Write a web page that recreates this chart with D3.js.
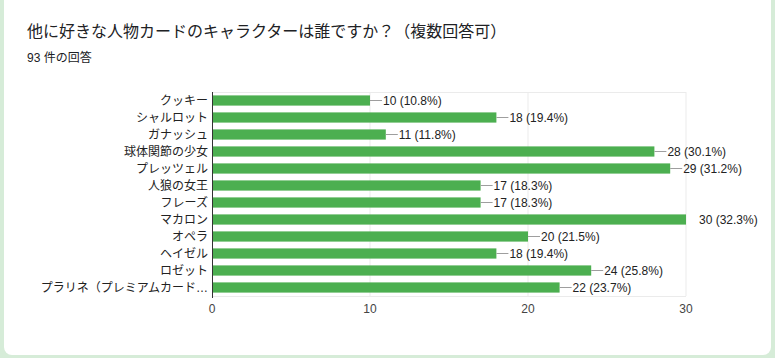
<!DOCTYPE html>
<html><head><meta charset="utf-8">
<script src="https://cdn.jsdelivr.net/npm/d3@7"></script>
<style>
html,body{margin:0;padding:0;background:#d6ecd8;}
svg{display:block;}
text{font-family:"Liberation Sans",Arial,"Noto Sans CJK JP",sans-serif;}
</style></head>
<body>
<script>
const title = "他に好きな人物カードのキャラクターは誰ですか？（複数回答可）";
const subtitle = "93 件の回答";
const total = 93;
const categories = ["クッキー","シャルロット","ガナッシュ","球体関節の少女","プレッツェル","人狼の女王","フレーズ","マカロン","オペラ","ヘイゼル","ロゼット","プラリネ（プレミアムカード…"];
const values = [10,18,11,28,29,17,17,30,20,18,24,22];
const tickValues = [0,10,20,30];

const W = 775, H = 358;
const svg = d3.select("body").append("svg").attr("width", W).attr("height", H);

svg.append("rect").attr("x",0).attr("y",0).attr("width",W).attr("height",H).attr("fill","#d6ecd8");
svg.append("rect").attr("x",4).attr("y",-12).attr("width",767).attr("height",367).attr("rx",8).attr("fill","#ffffff");

svg.append("text").attr("x",27).attr("y",37).attr("font-size",16).attr("fill","#202124").text(title);
svg.append("text").attr("x",27).attr("y",62).attr("font-size",12).attr("fill","#202124").text(subtitle);

const x = d3.scaleLinear().domain([0,30]).range([212,686]);
const y = d3.scaleBand().domain(categories).range([92,296]).paddingInner(0.4).paddingOuter(0.2);

const data = categories.map((c,i)=>({c, v: values[i]}));

// gridlines
svg.append("g").selectAll("line").data(tickValues.slice(1)).join("line")
  .attr("x1",d=>x(d)).attr("x2",d=>x(d)).attr("y1",92).attr("y2",296)
  .attr("stroke","#ebebeb").attr("stroke-width",1);
svg.append("g").selectAll("line").data([92,296]).join("line")
  .attr("x1",x(0)).attr("x2",x(30)).attr("y1",d=>d+0.5).attr("y2",d=>d+0.5)
  .attr("stroke","#ebebeb").attr("stroke-width",1);

// bars
svg.append("g").selectAll("rect").data(data).join("rect")
  .attr("x",x(0)).attr("y",d=>y(d.c)).attr("width",d=>x(d.v)-x(0)).attr("height",y.bandwidth())
  .attr("fill","#4caf50");

// leader lines (clipped to plot area)
svg.append("g").selectAll("line").data(data).join("line")
  .attr("x1",d=>x(d.v)).attr("x2",d=>Math.min(x(d.v)+12, x(30)))
  .attr("y1",d=>y(d.c)+y.bandwidth()/2).attr("y2",d=>y(d.c)+y.bandwidth()/2)
  .attr("stroke","#9e9e9e").attr("stroke-width",1);

// value labels
svg.append("g").selectAll("text").data(data).join("text")
  .attr("x",d=>x(d.v)+13).attr("y",d=>y(d.c)+y.bandwidth()/2).attr("dy","0.36em")
  .attr("font-size",12).attr("fill","#222")
  .text(d=>`${d.v} (${(d.v/total*100).toFixed(1)}%)`);

// category labels
svg.append("g").selectAll("text").data(data).join("text")
  .attr("x",208).attr("y",d=>y(d.c)+y.bandwidth()/2).attr("dy","0.36em")
  .attr("text-anchor","end").attr("font-size",12).attr("fill","#222")
  .text(d=>d.c);

// axis line
svg.append("line").attr("x1",x(0)+0.5).attr("x2",x(0)+0.5).attr("y1",92).attr("y2",298)
  .attr("stroke","#333").attr("stroke-width",1);

// x tick labels
svg.append("g").selectAll("text").data(tickValues).join("text")
  .attr("x",d=>x(d)).attr("y",313).attr("text-anchor","middle")
  .attr("font-size",12).attr("fill","#444").text(d=>d);
</script>
</body></html>
